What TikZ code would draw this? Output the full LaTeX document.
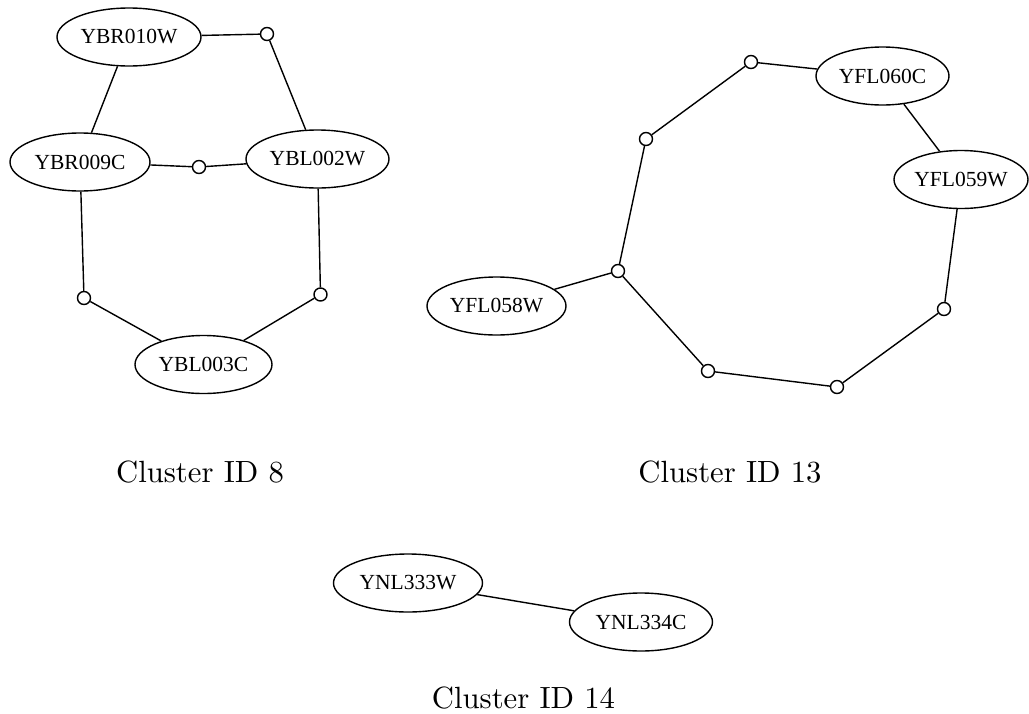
\documentclass[tikz,border=0pt]{standalone}
\usepackage{fontspec}
\usepackage{graphicx}
\newfontfamily\nodefont{Liberation Serif}
\usetikzlibrary{shapes.geometric}
\tikzset{
  x=1pt, y=-1pt,
  gene/.style={draw, ellipse, line width=1.4pt, inner sep=0pt,
    minimum height=58pt, font=\nodefont\fontsize{21.5}{24}\selectfont},
  dot/.style={draw, circle, line width=1.4pt, fill=white, inner sep=0pt, minimum size=13pt},
  link/.style={line width=1.4pt},
  caption/.style={anchor=base, inner sep=0pt}
}
\begin{document}
\begin{tikzpicture}
\useasboundingbox (0,0) rectangle (1029,713);
% Cluster 8
\node[gene, minimum width=144pt] (ybr010w) at (129,37) {YBR010W};
\node[gene, minimum width=140pt] (ybr009c) at (80,162) {YBR009C};
\node[gene, minimum width=143pt] (ybl002w) at (317.5,159) {YBL002W};
\node[gene, minimum width=137pt] (ybl003c) at (203.5,364.5) {YBL003C};
\node[dot] (p1) at (267,34) {};
\node[dot] (p2) at (199,167) {};
\node[dot] (p3) at (84,298) {};
\node[dot] (p4) at (320.5,294.5) {};
\draw[link] (ybr010w) -- (p1) -- (ybl002w);
\draw[link] (ybr010w) -- (ybr009c);
\draw[link] (ybr009c) -- (p2) -- (ybl002w);
\draw[link] (ybr009c) -- (p3) -- (ybl003c);
\draw[link] (ybl002w) -- (p4) -- (ybl003c);
% Cluster 13
\node[gene, minimum width=133pt] (yfl060c) at (882.5,76) {YFL060C};
\node[gene, minimum width=134pt] (yfl059w) at (961,179.5) {YFL059W};
\node[gene, minimum width=139pt] (yfl058w) at (496.5,306) {YFL058W};
\node[dot] (qa) at (751,62) {};
\node[dot] (qb) at (646,139) {};
\node[dot] (qc) at (618,271) {};
\node[dot] (qd) at (944,309) {};
\node[dot] (qe) at (708,371) {};
\node[dot] (qf) at (837,387) {};
\draw[link] (qa) -- (yfl060c) -- (yfl059w) -- (qd) -- (qf) -- (qe) -- (qc) -- (qb) -- (qa);
\draw[link] (qc) -- (yfl058w);
% Cluster 14
\node[gene, minimum width=149pt] (ynl333w) at (408,583) {YNL333W};
\node[gene, minimum width=143pt] (ynl334c) at (641,622) {YNL334C};
\draw[link] (ynl333w) -- (ynl334c);
% Captions
\node[caption] (cap8) at (200,482) {\scalebox{3.07}{Cluster ID 8}};
\node[caption] (cap13) at (730,482) {\scalebox{3.07}{Cluster ID 13}};
\node[caption] (cap14) at (523.5,708) {\scalebox{3.07}{Cluster ID 14}};
\end{tikzpicture}
\end{document}
